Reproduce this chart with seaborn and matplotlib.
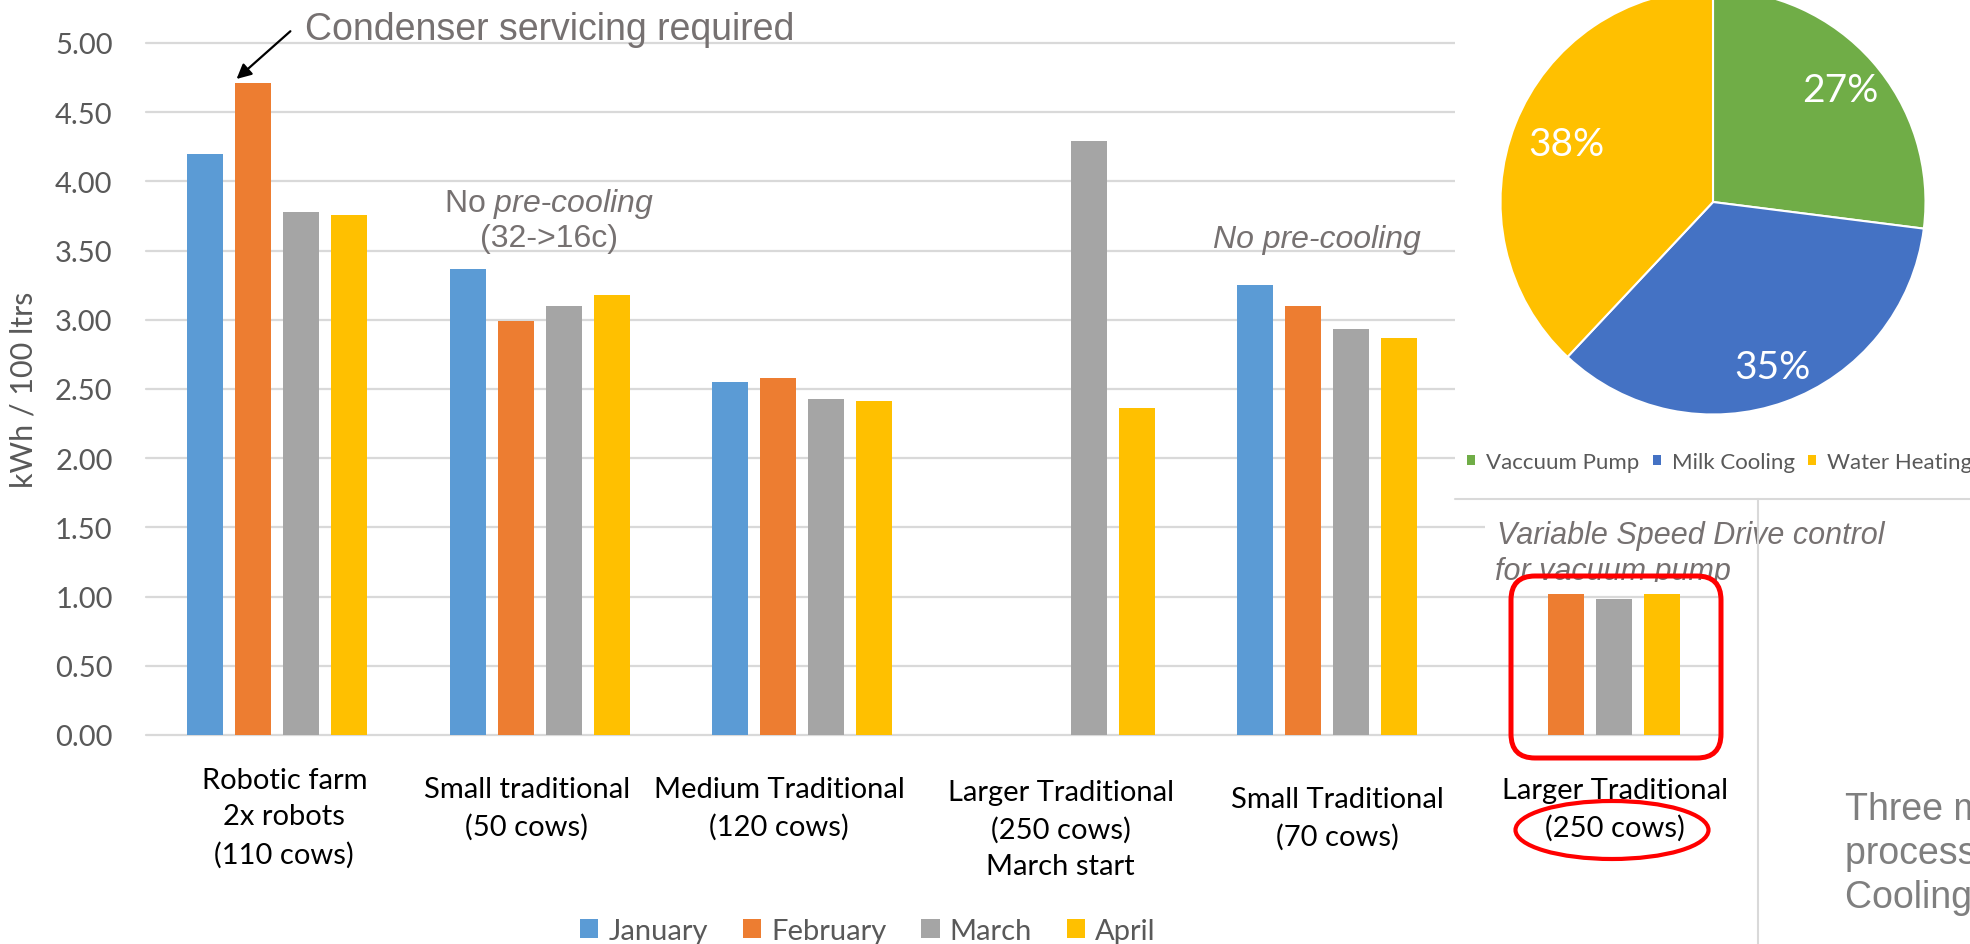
import numpy as np
import pandas as pd
import matplotlib
matplotlib.use("Agg")
import matplotlib.pyplot as plt
import seaborn as sns
from matplotlib.patches import FancyBboxPatch, Ellipse, Patch, Rectangle
from matplotlib.lines import Line2D
from matplotlib.transforms import IdentityTransform, ScaledTranslation, Bbox

# ---- data -------------------------------------------------------------
farms = [
    "Robotic farm\n2x robots\n(110 cows)",
    "Small traditional\n(50 cows)",
    "Medium Traditional\n(120 cows)",
    "Larger Traditional\n(250 cows)\nMarch start",
    "Small Traditional\n(70 cows)",
    "Larger Traditional\n(250 cows)",
]
months = ["January", "February", "March", "April"]
january = [4.20, 3.37, 2.55, np.nan, 3.25, np.nan]
february = [4.71, 2.99, 2.58, np.nan, 3.10, 1.02]
march = [3.78, 3.10, 2.43, 4.29, 2.93, 0.98]
april = [3.76, 3.18, 2.41, 2.36, 2.87, 1.02]
month_colors = ["#5B9BD5", "#ED7D31", "#A5A5A5", "#FFC000"]
y_ticks = np.arange(0, 5.01, 0.5)

energy_uses = ["Vaccuum Pump", "Milk Cooling", "Water Heating"]
energy_share = [27, 35, 38]
energy_colors = ["#70AD47", "#4472C4", "#FFC000"]

# per-label nudges (px) for the farm captions
label_nudge = [(7, 0), (-13, 9), (-23, 9), (-4, 12), (10, 19), (25, 10)]
# radial position of each percentage label (fraction of the radius)
pct_radius = [0.80, 0.825, 0.74]

# ---- style ------------------------------------------------------------
sns.set_theme(style="white")
plt.rcParams["font.family"] = ["Lato", "DejaVu Sans"]
plt.rcParams["mathtext.fontset"] = "custom"
plt.rcParams["mathtext.rm"] = "Liberation Sans"
plt.rcParams["mathtext.it"] = "Liberation Sans:italic"

GREY_TXT = "#595959"
NOTE_TXT = "#767171"
ARIAL = ["Liberation Sans", "DejaVu Sans"]

rows = []
for m, vals in zip(months, [january, february, march, april]):
    for f, v in zip(farms, vals):
        if not np.isnan(v):
            rows.append((f, m, v))
df = pd.DataFrame(rows, columns=["farm", "month", "kwh"])

W, H = 1970, 945
fig = plt.figure(figsize=(W / 100, H / 100), dpi=100)
fig.patch.set_facecolor("white")


def fx(px):
    return px / W


def fy(py):
    return 1 - py / H


# ---- main clustered bar chart ----------------------------------------
ax = fig.add_axes([fx(146), fy(736), (1721 - 146) / W, (736 - 44) / H])
sns.barplot(data=df, x="farm", y="kwh", hue="month", order=farms,
            hue_order=months, palette=month_colors, width=0.731, gap=0.25,
            errorbar=None, linewidth=0, saturation=1, ax=ax)
ax.get_legend().remove()
ax.set_xlim(-0.5, 5.5)
ax.set_ylim(0, 5)
ax.set_yticks(y_ticks)
ax.set_yticklabels([f"{t:.2f}" for t in y_ticks])
ax.grid(axis="y", color="#D9D9D9", lw=1.6)
ax.set_axisbelow(True)
for gl in ax.yaxis.get_gridlines():
    gl.set_clip_on(False)
for s in ax.spines.values():
    s.set_visible(False)
ax.set_xlabel("")
ax.set_ylabel("kWh / 100 ltrs", fontsize=22, color=GREY_TXT)
ax.yaxis.set_label_coords(-0.0692, 0.5)
ax.tick_params(axis="y", length=0, pad=24, labelsize=21, labelcolor=GREY_TXT)
ax.tick_params(axis="x", length=0, pad=23, labelsize=21, labelcolor="black")
ax.set_xticks(range(len(farms)))
ax.set_xticklabels(farms, linespacing=1.5)
for lab, (dx, dy) in zip(ax.get_xticklabels(), label_nudge):
    lab.set_transform(lab.get_transform()
                      + ScaledTranslation(dx / 100, -dy / 100, fig.dpi_scale_trans))

month_handles = [Patch(facecolor=c, edgecolor="none") for c in month_colors]
ax.legend(month_handles, months, loc="center", bbox_to_anchor=(fx(868), fy(932)),
          bbox_transform=fig.transFigure, ncol=4, frameon=False, fontsize=21,
          handlelength=0.62, handleheight=0.62, handletextpad=0.35,
          columnspacing=1.2, labelcolor=GREY_TXT, borderpad=0, borderaxespad=0)

# notes on the bar chart
ax.text(0.105, 5.03, "Condenser servicing required", fontsize=27, family=ARIAL,
        color=NOTE_TXT, ha="left", va="baseline", clip_on=False)
ax.annotate("", xy=(-0.155, 4.74), xytext=(0.05, 5.085),
            arrowprops=dict(arrowstyle="-|>", color="black", lw=1.6,
                            mutation_scale=22, shrinkA=0, shrinkB=0),
            annotation_clip=False)
ax.text(1.034, 3.786, r"No $\mathit{pre}$-$\mathit{cooling}$", fontsize=23,
        family=ARIAL, color=NOTE_TXT, ha="center", va="baseline")
ax.text(1.034, 3.533, "(32->16c)", fontsize=23, family=ARIAL, color=NOTE_TXT,
        ha="center", va="baseline")
ax.text(3.96, 3.526, "No pre-cooling", fontsize=23, family=ARIAL, style="italic",
        color=NOTE_TXT, ha="center", va="baseline")

ax.add_patch(Rectangle((4.6, 1.105), 1.0, 0.49, facecolor="white",
                       edgecolor="none", zorder=2, clip_on=False))
ax.text(4.646, 1.387, "Variable Speed Drive control", fontsize=22, family=ARIAL,
        style="italic", color=NOTE_TXT, ha="left", va="baseline", zorder=3,
        clip_on=False)
vsd2 = ax.text(4.638, 1.127, "for vacuum pump", fontsize=22, family=ARIAL,
               style="italic", color=NOTE_TXT, ha="left", va="baseline", zorder=3)
vsd2.set_clip_on(True)
vsd2.set_clip_box(Bbox.from_extents(0, H - 583, W, H))

# ---- pie of energy use -----------------------------------------------
pax = fig.add_axes([fx(1455), fy(500), (W - 1455) / W, 500 / H])
pax.set_zorder(2)
pcx, pcy, pr = 1713, 203, 212.5
wedges, _, autotexts = pax.pie(
    energy_share, colors=energy_colors, startangle=90, counterclock=False,
    autopct=lambda p: f"{p:.0f}%", pctdistance=0.79,
    wedgeprops=dict(edgecolor="white", linewidth=1.5),
    textprops=dict(color="white", fontsize=28))
for w, t, rad in zip(wedges, autotexts, pct_radius):
    mid = np.deg2rad((w.theta1 + w.theta2) / 2)
    t.set_position((rad * np.cos(mid), rad * np.sin(mid)))
pax.set_aspect("auto")
pax.set_xlim((1455 - pcx) / pr, (W - pcx) / pr)
pax.set_ylim(-(500 - pcy) / pr, pcy / pr)
pax.set_frame_on(True)
pax.set_facecolor("white")
for s in pax.spines.values():
    s.set_visible(False)
pax.set_xticks([])
pax.set_yticks([])

pie_handles = [Patch(facecolor=c, edgecolor="none") for c in energy_colors]
fig.legend(pie_handles, energy_uses, loc="center left",
           bbox_to_anchor=(fx(1467), fy(463)), ncol=3, frameon=False,
           fontsize=16, handlelength=0.36, handleheight=0.36,
           handletextpad=0.5, columnspacing=0.6, labelcolor=GREY_TXT,
           borderpad=0, borderaxespad=0)

# ---- slide furniture --------------------------------------------------
ident = IdentityTransform()
fig.add_artist(Line2D([1455, W], [H - 500, H - 500], transform=ident,
                      color="#D9D9D9", lw=1.5, zorder=3))
fig.add_artist(Line2D([1758, 1758], [0, H - 500], transform=ident,
                      color="#D9D9D9", lw=1.5, zorder=3))
fig.add_artist(FancyBboxPatch((1511, H - 759), 210, 182,
                              boxstyle="round,pad=0,rounding_size=24",
                              transform=ident, fill=False, edgecolor="#FF0000",
                              lw=3.6, zorder=4))
fig.add_artist(Ellipse((1612, H - 831), 193, 58, transform=ident, fill=False,
                       edgecolor="#FF0000", lw=3, zorder=4))

for line, base in zip(["Three main energy", "processes: Milk",
                       "Cooling, Water Heating"], [820, 864, 908]):
    fig.text(fx(1845), fy(base), line, fontsize=27, family=ARIAL,
             color="#7F7F7F", ha="left", va="baseline")

fig.savefig("out.png", dpi=100)
